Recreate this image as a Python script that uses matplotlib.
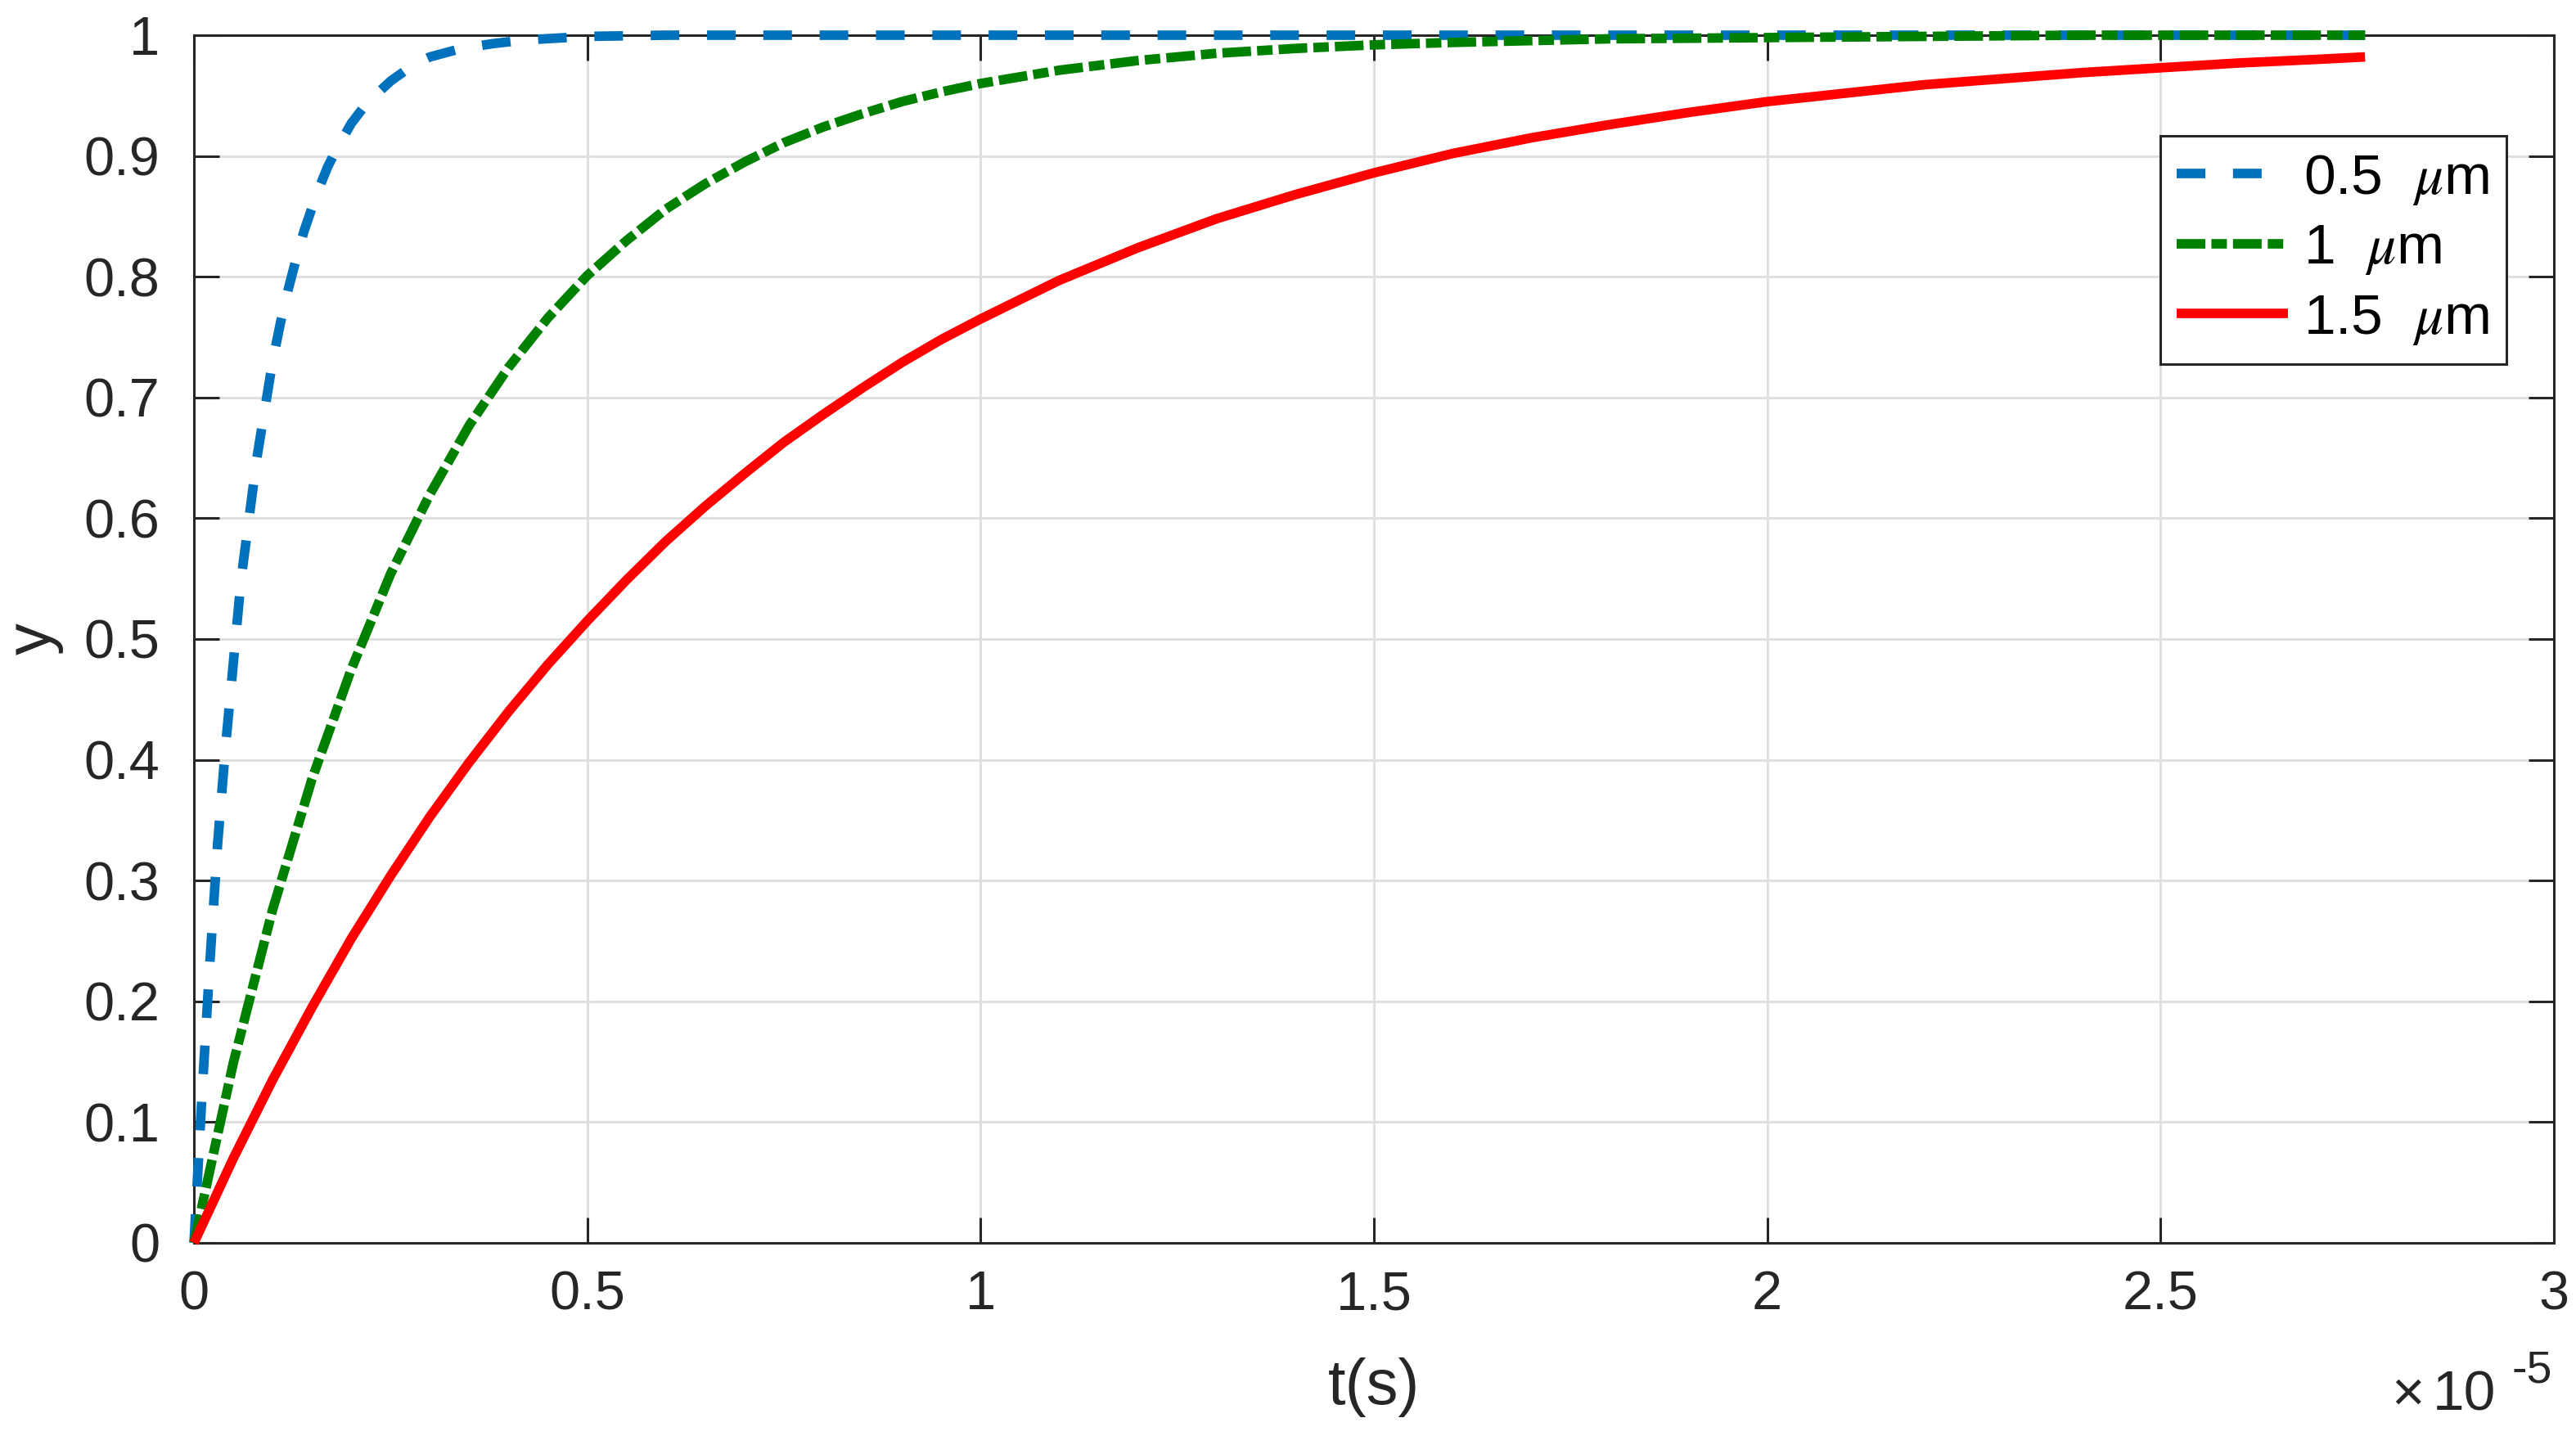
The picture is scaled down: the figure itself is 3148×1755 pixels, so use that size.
import matplotlib
matplotlib.use('Agg')
import matplotlib.pyplot as plt
from matplotlib.ticker import FuncFormatter
from matplotlib.font_manager import FontProperties

plt.rcParams['font.family'] = ['Liberation Sans', 'DejaVu Sans']

# time in units of 1e-5 s
t_05 = [0, 0.01, 0.02, 0.03, 0.04, 0.05, 0.06, 0.07, 0.08, 0.09, 0.10, 0.11, 0.12, 0.13,
        0.14, 0.15, 0.16, 0.17, 0.18, 0.20, 0.22, 0.25, 0.28, 0.30, 0.34, 0.38, 0.42,
        0.50, 0.60, 2.76]
y_05 = [0, 0.12, 0.23, 0.33, 0.41, 0.48, 0.55, 0.60, 0.65, 0.69, 0.73, 0.762, 0.79, 0.815,
        0.838, 0.857, 0.875, 0.891, 0.904, 0.927, 0.944, 0.962, 0.976, 0.982, 0.989, 0.993,
        0.996, 0.999, 1.0, 1.0]

t_1 = [0, 0.05, 0.1, 0.15, 0.2, 0.25, 0.3, 0.35, 0.4, 0.45, 0.5, 0.55, 0.6, 0.65, 0.7,
       0.75, 0.8, 0.85, 0.9, 0.95, 1.0, 1.1, 1.2, 1.3, 1.4, 1.5, 1.6, 1.8, 2.0, 2.2, 2.4, 2.76]
y_1 = [0, 0.149, 0.276, 0.384, 0.475, 0.554, 0.62, 0.677, 0.725, 0.766, 0.801, 0.830,
       0.856, 0.877, 0.895, 0.911, 0.924, 0.935, 0.945, 0.953, 0.96, 0.971, 0.979, 0.985,
       0.989, 0.992, 0.994, 0.997, 0.998, 0.999, 1.0, 1.0]

t_15 = [0, 0.05, 0.1, 0.15, 0.2, 0.25, 0.3, 0.35, 0.4, 0.45, 0.5, 0.55, 0.6, 0.65, 0.7,
        0.75, 0.8, 0.85, 0.9, 0.95, 1.0, 1.1, 1.2, 1.3, 1.4, 1.5, 1.6, 1.7, 1.8, 1.9, 2.0,
        2.1, 2.2, 2.3, 2.4, 2.5, 2.6, 2.7, 2.76]
y_15 = [0, 0.070, 0.135, 0.195, 0.252, 0.304, 0.353, 0.398, 0.44, 0.479, 0.515, 0.549,
        0.581, 0.610, 0.637, 0.663, 0.686, 0.708, 0.729, 0.748, 0.765, 0.797, 0.824, 0.848,
        0.868, 0.886, 0.902, 0.915, 0.926, 0.936, 0.945, 0.952, 0.959, 0.964, 0.969, 0.973,
        0.977, 0.980, 0.982]

labels = ['0.5  $\\mu$m', '1  $\\mu$m', '1.5  $\\mu$m']
colors = ['#0072BD', '#008000', '#FF0000']

ink = '#262626'

fig = plt.figure(figsize=(15.74, 8.775), dpi=200)
ax = fig.add_axes([0.0753, 0.1345, 0.9161, 0.8410])

ax.plot(t_05, y_05, color=colors[0], lw=4.2, dashes=(3.0, 2.9), label=labels[0],
        clip_on=False, zorder=4)
ax.plot(t_1, y_1, color=colors[1], lw=4.2, dashes=(3.0, 0.64, 1.62, 0.64), label=labels[1],
        clip_on=False, zorder=4)
ax.plot(t_15, y_15, color=colors[2], lw=4.2, label=labels[2], clip_on=False, zorder=4,
        solid_capstyle='butt')

ax.set_xlim(0, 3)
ax.set_ylim(0, 1)
ax.set_xticks([0, 0.5, 1, 1.5, 2, 2.5, 3])
ax.set_yticks([i / 10 for i in range(11)])
fmt = FuncFormatter(lambda v, p: '%g' % round(v, 2))
ax.xaxis.set_major_formatter(fmt)
ax.yaxis.set_major_formatter(fmt)

ax.grid(True, color='#dfdfdf', lw=1.1)
ax.set_axisbelow(True)
for s in ax.spines.values():
    s.set_color(ink)
    s.set_linewidth(1.1)
ax.tick_params(axis='both', direction='in', length=11.3, width=1.1, top=True, right=True,
               labelsize=24, colors=ink)
ax.tick_params(axis='y', pad=15)
ax.tick_params(axis='x', pad=12)

ax.set_xlabel('t(s)', fontsize=28, color=ink, labelpad=16)
ax.set_ylabel('y', fontsize=28, color=ink, labelpad=9)

# x10^-5 multiplier below the right end of the x axis
def ax_x(px):
    return (px - 237) / 2884.0

def ax_y(py):
    return (1519 - py) / 1476.0

ax.text(ax_x(2922), ax_y(1724), '\u00d7', transform=ax.transAxes, ha='left',
        va='baseline', fontsize=25, color=ink)
ax.text(ax_x(2973), ax_y(1724), '10', transform=ax.transAxes, ha='left',
        va='baseline', fontsize=25, color=ink)
ax.text(ax_x(3070), ax_y(1690), '-5', transform=ax.transAxes, ha='left',
        va='baseline', fontsize=20, color=ink)

leg = ax.legend(loc='upper right', bbox_to_anchor=(0.980, 0.9167), borderaxespad=0,
                prop=FontProperties(family='Liberation Sans', size=25, math_fontfamily='stix'),
                fancybox=False, framealpha=1, edgecolor=ink, handlelength=1.95,
                handletextpad=0.28, borderpad=0.3, labelspacing=0.28)
leg.get_frame().set_linewidth(1.1)

fig.savefig('out.png', dpi=200)
